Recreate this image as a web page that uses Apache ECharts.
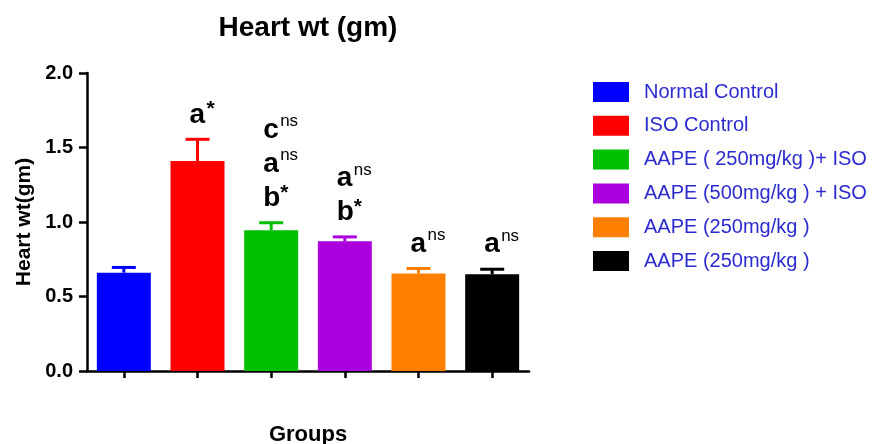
<!DOCTYPE html>
<html>
<head>
<meta charset="utf-8">
<script src="https://cdn.jsdelivr.net/npm/echarts@6/dist/echarts.min.js"></script>
<style>html,body{margin:0;padding:0;background:#fff}#c{width:874px;height:444px}</style>
</head>
<body>
<div id="c"></div>
<script>
const categories = ['Normal Control', 'ISO Control', 'AAPE ( 250mg/kg )+ ISO', 'AAPE (500mg/kg ) + ISO', 'AAPE (250mg/kg )', 'AAPE (250mg/kg ) '];
const means = [0.66, 1.41, 0.945, 0.87, 0.655, 0.65];
const errors = [0.035, 0.145, 0.05, 0.03, 0.033, 0.033];
const annotations = [
  [],
  [['a', '*']],
  [['c', 'ns'], ['a', 'ns'], ['b', '*']],
  [['a', 'ns'], ['b', '*']],
  [['a', 'ns']],
  [['a', 'ns']]
];
const yTicks = [0, 0.5, 1.0, 1.5, 2.0];
const colors = ['#0000ff', '#ff0000', '#00bf00', '#aa00dd', '#ff8000', '#000000'];

const FONT = 'Liberation Sans, Arial, sans-serif';
const chart = echarts.init(document.getElementById('c'), null, {renderer: 'canvas'});

const barSeries = categories.map((name, i) => ({
  name: name,
  type: 'bar',
  barWidth: 54,
  barGap: '-100%',
  data: means.map((v, j) => j === i ? v : '-'),
  itemStyle: {color: colors[i]},
  z: 2
}));

const errSeries = {
  type: 'custom',
  name: 'err',
  data: means.map((v, i) => [i, v, errors[i]]),
  encode: {x: 0, y: 1},
  z: 3,
  renderItem: function (params, api) {
    const i = api.value(0), v = api.value(1), e = api.value(2);
    const p0 = api.coord([i, v]);
    const p1 = api.coord([i, v + e]);
    const c = colors[i];
    return {type: 'group', children: [
      {type: 'line', shape: {x1: p0[0], y1: p0[1], x2: p1[0], y2: p1[1]}, style: {stroke: c, lineWidth: 3}},
      {type: 'line', shape: {x1: p1[0] - 12, y1: p1[1], x2: p1[0] + 12, y2: p1[1]}, style: {stroke: c, lineWidth: 3}}
    ]};
  }
};

const annSeries = {
  type: 'custom',
  name: 'ann',
  data: means.map((v, i) => [i, v + errors[i]]),
  encode: {x: 0, y: 1},
  z: 4,
  renderItem: function (params, api) {
    const i = api.value(0), top = api.value(1);
    const p = api.coord([i, top]);
    const lines = annotations[i];
    const children = [];
    const n = lines.length;
    lines.forEach((ln, k) => {
      const fromBottom = n - 1 - k;
      const base = p[1] - 16 - fromBottom * 34;
      children.push({type: 'text', x: p[0] - 8, y: base - 8.5, style: {
        text: ln[0], font: 'bold 28px ' + FONT, fill: '#000', align: 'left', verticalAlign: 'middle'}});
      const star = ln[1] === '*';
      children.push({type: 'text', x: p[0] + 9, y: star ? base - 14 : base - 17, style: {
        text: ln[1], font: (star ? 'bold 21px ' : '17px ') + FONT, fill: '#000', align: 'left', verticalAlign: 'middle'}});
    });
    return {type: 'group', children: children};
  }
};

chart.setOption({
  animation: false,
  backgroundColor: '#ffffff',
  title: {
    text: 'Heart wt (gm)', left: 303, top: 9, textAlign: 'center',
    textStyle: {fontFamily: FONT, fontWeight: 'bold', fontSize: 28, color: '#000'}
  },
  legend: {
    orient: 'vertical', left: 593, top: 82, padding: 0,
    itemWidth: 36, itemHeight: 20, itemGap: 13.8, icon: 'rect',
    data: categories,
    textStyle: {fontFamily: FONT, fontSize: 20, color: '#2b2bd0', padding: [0, 0, 0, 10]},
    selectedMode: false
  },
  grid: {left: 87, right: 345, top: 73, bottom: 73, containLabel: false, outerBoundsMode: 'none'},
  xAxis: {
    type: 'category', data: categories,
    name: 'Groups', nameLocation: 'middle', nameGap: 53,
    nameTextStyle: {fontFamily: FONT, fontWeight: 'bold', fontSize: 22, color: '#000'},
    axisLine: {lineStyle: {color: '#000', width: 2.5}},
    axisTick: {show: true, alignWithLabel: true, interval: 0, length: 7, lineStyle: {color: '#000', width: 2.5}},
    axisLabel: {show: false, interval: 0},
    splitLine: {show: false}
  },
  yAxis: {
    type: 'value', min: 0, max: 2, interval: 0.5,
    name: 'Heart wt(gm)', nameLocation: 'middle', nameGap: 52, nameRotate: 90,
    nameTextStyle: {fontFamily: FONT, fontWeight: 'bold', fontSize: 21, color: '#000'},
    axisLine: {show: true, lineStyle: {color: '#000', width: 2.5}},
    axisTick: {show: true, length: 8, lineStyle: {color: '#000', width: 2.5}},
    axisLabel: {margin: 14, fontFamily: FONT, fontWeight: 'bold', fontSize: 20, color: '#000',
      formatter: v => yTicks.indexOf(v) >= 0 ? v.toFixed(1) : ''},
    splitLine: {show: false}
  },
  series: barSeries.concat([errSeries, annSeries])
});
</script>
</body>
</html>
